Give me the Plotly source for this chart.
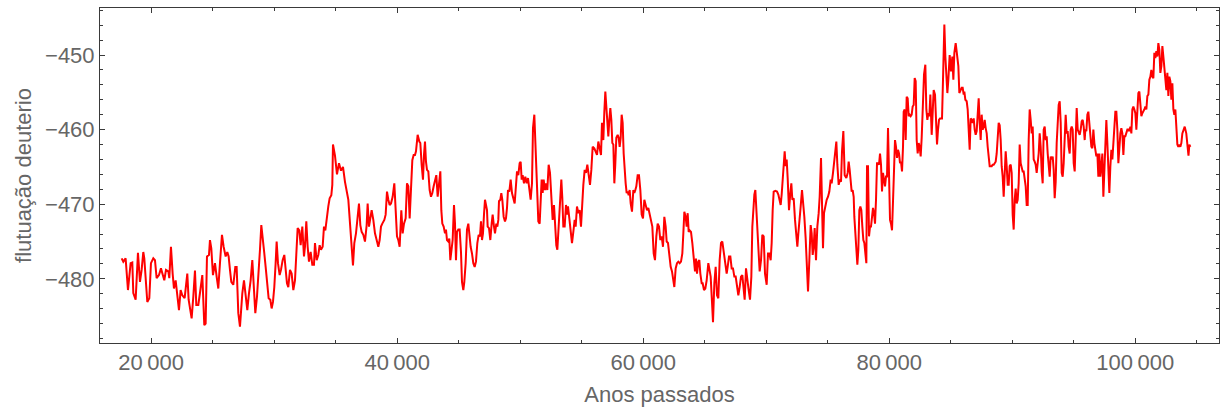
import plotly.graph_objects as go

# Deuterium fluctuation record (years before present, per-mil deviation)
anos = [
    17599, 17734, 17924, 18005, 18113, 18330, 18466, 18547, 18737, 18926,
    19089, 19225, 19360, 19441, 19550, 19685, 19848, 19983, 20173, 20309,
    20444, 20634, 20796, 20932, 21067, 21203, 21393, 21474, 21609, 21745,
    21853, 21989, 22151, 22260, 22395, 22531, 22720, 22937, 23046, 23181,
    23290, 23425, 23561, 23669, 23832, 23967, 24157, 24319, 24428, 24536,
    24699, 24780, 24888, 25024, 25187, 25322, 25458, 25593, 25756, 25891,
    26054, 26189, 26298, 26406, 26514, 26677, 26840, 26948, 27084, 27219,
    27274, 27409, 27545, 27680, 27816, 27951, 28087, 28222, 28358, 28466,
    28602, 28737, 28845, 28954, 29089, 29198, 29306, 29442, 29550, 29686,
    29794, 29902, 30011, 30119, 30201, 30309, 30445, 30553, 30688, 30824,
    30932, 31041, 31149, 31285, 31420, 31556, 31691, 31799, 31908, 32043,
    32152, 32287, 32423, 32504, 32612, 32721, 32829, 32965, 33100, 33236,
    33317, 33453, 33588, 33696, 33805, 33940, 34049, 34157, 34266, 34401,
    34509, 34645, 34726, 34780, 34943, 35106, 35268, 35431, 35594, 35756,
    36027, 36163, 36298, 36406, 36515,
    36650, 36786, 36894, 37003, 37111, 37247, 37382, 37518, 37599, 37707,
    37816, 37924, 38060, 38195, 38331, 38466, 38575, 38683, 38791, 38954,
    39062, 39171, 39279, 39387, 39496, 39631, 39767, 39875, 39984, 40092,
    40200, 40336, 40444, 40553, 40688, 40797, 40905, 41013, 41122, 41230,
    41339, 41447, 41528, 41583, 41664, 41799, 41881, 41989, 42097, 42179,
    42260, 42341, 42423, 42531, 42639, 42748, 42856, 42965, 43073, 43181,
    43290, 43398, 43507, 43588, 43669, 43778, 43886, 43967, 44049, 44157,
    44238, 44320, 44428, 44509, 44618, 44699, 44780, 44862, 44970, 45078,
    45187, 45268, 45376, 45458, 45566, 45675, 45783, 45891, 45972, 46081,
    46189, 46298, 46406, 46515, 46623, 46731, 46813, 46894, 46975, 47057,
    47138,
    47301, 47355, 47463, 47572, 47680, 47761, 47870, 47951, 48059, 48141,
    48222, 48276, 48385, 48466, 48547, 48656, 48764, 48845, 48927, 49008,
    49116, 49225, 49333, 49442, 49550, 49631, 49740, 49848, 49956, 50038,
    50119, 50200, 50309, 50417, 50526, 50634, 50742, 50851, 50959, 51040,
    51149, 51257, 51366, 51474, 51582, 51664, 51745, 51826, 51908, 52016,
    52097, 52206, 52314, 52423, 52531, 52639, 52748, 52829, 52937, 53019,
    53127, 53236, 53344, 53425, 53507, 53615, 53723, 53805, 53886, 53994,
    54103, 54211, 54320, 54428, 54509, 54617, 54726, 54834, 54943, 55024,
    55133, 55241, 55349, 55458, 55566, 55675, 55783, 55891, 56027, 56135,
    56244, 56352, 56461, 56569, 56650, 56759, 56840,
    56921, 57002, 57084, 57165, 57246, 57328, 57409, 57490, 57572, 57653,
    57734, 57815, 57924, 58005, 58086, 58168, 58249, 58330, 58412, 58493,
    58574, 58656, 58737, 58818, 58899, 58981, 59089, 59198, 59279, 59360,
    59441, 59550, 59658, 59767, 59875, 59983, 60092, 60200, 60309, 60417,
    60525, 60634, 60742, 60851, 60959, 61067, 61176, 61284, 61393, 61501,
    61609, 61718, 61826, 61908, 62016, 62124, 62233, 62341, 62450, 62531,
    62639, 62748, 62856, 62964, 63073, 63181, 63263, 63344, 63452, 63534,
    63615, 63696, 63777, 63886, 63994, 64103, 64211, 64292, 64374, 64482,
    64563, 64645, 64753, 64834, 64942, 65051, 65159, 65295, 65403, 65485,
    65593, 65674, 65783, 65891, 66000, 66108, 66216, 66325, 66433, 66542,
    66677, 66786, 66867, 66975, 67084, 67192, 67300, 67409, 67517, 67626,
    67734, 67842, 67951, 68059, 68168, 68249, 68357, 68466, 68574, 68683,
    68791, 68872, 68954, 69035, 69116, 69197, 69279, 69387, 69468, 69577,
    69685, 69794, 69902, 70038, 70146, 70254, 70363, 70444, 70525, 70607,
    70742, 70878, 70986, 71095, 71176, 71257, 71338, 71420, 71501, 71582,
    71664, 71745, 71853, 71962, 72043, 72124, 72233, 72341, 72449, 72531,
    72612, 72693, 72802, 72910, 73019, 73100, 73208, 73317, 73398, 73506,
    73615, 73696, 73777, 73859, 73940, 74048, 74157, 74265, 74346, 74455,
    74536, 74617, 74699, 74807, 74916, 75024, 75132, 75241, 75322, 75430,
    75512, 75593, 75701, 75783, 75891, 75999, 76081, 76162, 76271, 76379,
    76433, 76514, 76623, 76704, 76785, 76867, 76948, 77029, 77111, 77165,
    77246, 77327, 77409, 77490, 77571, 77653, 77734, 77815, 77897, 77978,
    78059, 78140, 78195, 78276, 78357, 78439, 78520, 78601, 78682, 78764,
    78845, 78926, 79008, 79089, 79170, 79252, 79333, 79414, 79495, 79577,
    79658, 79739, 79821, 79902, 79983, 80065, 80146, 80227, 80308, 80390,
    80471, 80552, 80634, 80715, 80796, 80878, 80959, 81040, 81121, 81176,
    81257, 81338, 81420, 81501, 81582, 81663, 81745, 81826, 81907, 81989,
    82070, 82151, 82233, 82314, 82395, 82476, 82558, 82639, 82747, 82829,
    82937, 83018, 83100, 83181, 83262, 83344, 83452, 83533, 83615, 83723,
    83804, 83886, 83967, 84048, 84130, 84211, 84292, 84373, 84482, 84563,
    84644, 84726, 84807, 84915, 85024, 85132, 85214, 85295, 85403, 85512,
    85620, 85701, 85810, 85891, 85972, 86054,
    86108, 86189, 86298, 86379, 86460, 86541, 86623, 86704, 86785, 86867,
    86948, 87029, 87111, 87192, 87273, 87354, 87436, 87517, 87598, 87680,
    87761, 87842, 87924, 88005, 88086, 88167, 88249, 88330, 88411, 88493,
    88574, 88655, 88737, 88818, 88899, 88981, 89062, 89143, 89224, 89306,
    89387, 89468, 89550, 89631, 89712, 89793, 89875, 89956, 90037, 90119,
    90200, 90281, 90363, 90444, 90525, 90606, 90688, 90769, 90850, 90932,
    91013, 91094, 91176, 91257, 91338, 91419, 91501, 91582, 91663, 91745,
    91826, 91907, 91989, 92070, 92151, 92232, 92314, 92395, 92476, 92558,
    92639, 92720, 92802, 92883, 92964, 93045, 93127, 93208, 93289, 93371,
    93452, 93533, 93615, 93696, 93777, 93859, 93940, 94021, 94102, 94184,
    94265, 94346, 94428, 94509, 94590, 94672, 94753, 94834, 94916, 94997,
    95078, 95159, 95241, 95322, 95403, 95485, 95566, 95647, 95729, 95810,
    95891,
    95945, 96026, 96108, 96189, 96270, 96352, 96433, 96514, 96596, 96677,
    96758, 96839, 96921, 97002, 97083, 97165, 97246, 97327, 97409, 97490,
    97571, 97652, 97734, 97815, 97896, 97978, 98059, 98140, 98222, 98303,
    98384, 98465, 98547, 98628, 98709, 98791, 98872, 98953, 99035, 99116,
    99197, 99278, 99360, 99441, 99522, 99604, 99685, 99766, 99848, 99929,
    100010, 100091, 100173, 100254, 100335, 100417, 100498, 100579, 100661, 100742,
    100823, 100904, 100986, 101067, 101148, 101230, 101311, 101392, 101474, 101555,
    101636, 101717, 101799, 101880, 101961, 102043, 102124, 102205, 102287, 102368,
    102449, 102530, 102612, 102693, 102774, 102856, 102937, 103018, 103100, 103181,
    103262, 103343, 103425, 103506, 103587, 103668, 103750, 103831, 103912, 104023,
    104150, 104250, 104330, 104400, 104480,
]

deuterio = [
    -477.25, -477.7, -477.25, -479.0, -481.5, -477.9, -477.8, -481.9, -482.8, -476.5,
    -480.4, -478.8, -476.4, -477.25, -479.7, -483.1, -482.6, -477.9, -477.25, -477.5,
    -479.9, -479.5, -478.6, -479.5, -480.2, -478.8, -479.0, -479.9, -475.7, -479.3,
    -481.3, -480.2, -482.4, -484.2, -481.5, -482.2, -482.6, -479.3, -482.8, -484.2,
    -485.3, -482.4, -478.9, -483.5, -483.5, -481.9, -479.5, -486.2, -486.0, -477.0,
    -476.8, -474.8, -475.9, -479.5, -477.9, -479.7, -481.3, -477.9, -474.1, -475.7,
    -477.0, -476.4, -477.0, -478.8, -480.4, -480.8, -478.4, -478.4, -484.6, -486.4,
    -484.6, -481.95, -480.2, -482.4, -484.2, -481.95, -480.2, -477.5, -481.5, -484.6,
    -482.4, -477.9, -476.1, -472.8, -474.6, -476.6, -478.4, -481.5, -482.6, -482.8,
    -483.97, -483.1, -481.1, -477.9, -475.0, -477.9, -479.5, -478.8, -477.5, -476.8,
    -478.8, -480.6, -481.1, -478.8, -479.3, -481.5, -480.2, -476.8, -473.2, -473.5,
    -475.5, -473.0, -477.0, -475.7, -472.3, -475.7, -477.7, -476.4, -478.1, -478.1,
    -475.2, -477.5, -476.8, -475.5, -476.1, -475.7, -473.0, -473.5, -471.7, -470.3,
    -469.2, -468.8, -467.4, -462.0, -463.5, -466.0, -464.5, -465.5, -465.0, -467.0,
    -469.4, -472.6, -475.7, -478.2, -475.2,
    -473.9, -471.7, -469.9, -472.8, -473.7, -474.1, -475.0, -472.8, -469.9, -473.0,
    -471.7, -470.8, -472.1, -473.9, -474.8, -475.7, -474.8, -473.0, -472.6, -472.1,
    -471.4, -468.3, -469.4, -470.1, -469.9, -469.0, -467.2, -471.9, -474.3, -474.8,
    -475.7, -470.8, -473.9, -472.6, -471.9, -467.2, -467.6, -471.9, -467.6, -464.1,
    -463.4, -463.4, -462.9, -461.6, -460.7, -461.6, -461.8, -464.7, -466.7, -463.4,
    -461.6, -464.3, -465.4, -465.6, -468.1, -469.0, -468.5, -467.6, -466.7, -466.1,
    -469.0, -467.6, -465.6, -470.8, -472.6, -473.0, -473.9, -473.4, -474.8, -475.0,
    -474.6, -477.5, -476.1, -474.8, -470.1, -472.6, -477.5, -473.7, -473.4, -473.4,
    -476.4, -480.4, -481.5, -480.4, -477.9, -473.4, -472.6, -475.2, -475.7, -476.6,
    -477.9, -478.4, -477.7, -475.2, -474.1, -474.3, -472.3, -474.8, -473.9, -471.4,
    -469.4,
    -470.8, -473.0, -473.2, -474.8, -472.6, -471.4, -473.0, -473.9, -472.6, -473.0,
    -472.1, -469.6, -469.4, -468.5, -469.4, -471.7, -472.3, -471.9, -470.5, -468.1,
    -468.3, -466.7, -468.5, -469.4, -469.9, -468.1, -465.6, -466.1, -464.5, -464.3,
    -466.7, -466.1, -467.2, -466.3, -467.2, -466.5, -468.5, -469.4, -467.2, -459.8,
    -458.0, -463.6, -466.7, -472.3, -472.6, -468.5, -466.7, -468.5, -466.7, -468.1,
    -467.2, -468.1, -464.7, -465.8, -469.0, -472.1, -470.1, -472.6, -475.5, -476.1,
    -472.6, -469.4, -466.7, -469.2, -473.0, -473.0, -470.1, -471.4, -470.3, -471.9,
    -473.5, -475.2, -473.7, -472.1, -473.0, -470.3, -471.2, -470.8, -473.0, -470.3,
    -467.4, -465.4, -465.8, -464.7, -466.1, -467.4, -465.4, -462.3, -462.5, -463.0,
    -463.4, -461.6, -462.5, -463.4, -459.1, -461.4, -457.6,
    -454.9, -456.9, -459.1, -460.9, -458.7, -457.1, -458.7, -461.8, -462.0, -467.2,
    -464.5, -461.1, -460.7, -461.1, -462.3, -461.1, -458.0, -459.1, -463.2, -465.6,
    -467.2, -468.5, -468.3, -468.8, -468.1, -469.9, -471.0, -468.1, -468.5, -468.1,
    -467.6, -466.1, -466.1, -468.1, -471.4, -471.9, -469.4, -470.1, -470.8, -470.5,
    -471.2, -472.1, -473.0, -476.6, -477.5, -474.3, -472.6, -473.0, -474.8, -474.3,
    -475.7, -471.7, -473.0, -475.0, -475.2, -476.8, -478.4, -479.0, -480.6, -481.1,
    -478.6, -477.9, -477.7, -477.9, -477.7, -476.6, -473.9, -471.0, -471.7, -473.0,
    -471.2, -473.7, -473.5, -473.7, -475.2, -477.5, -479.0, -477.3, -479.3, -477.7,
    -477.5, -479.3, -480.6, -480.6, -481.5, -481.3, -480.2, -477.9, -478.8, -479.7,
    -483.1, -485.8, -480.6, -478.4, -482.2, -482.6, -477.5, -475.2, -475.0, -476.4,
    -478.4, -479.3, -478.4, -477.0, -477.0, -478.6, -478.6, -479.7, -479.7, -481.1,
    -482.2, -481.1, -479.7, -479.5, -481.5, -482.8, -478.6, -480.6, -481.5, -482.8,
    -479.7, -473.0, -469.9, -468.7, -468.1, -471.2, -474.6, -476.6, -479.0, -477.5,
    -474.1, -474.3, -479.3, -480.8, -476.6, -476.6, -477.5, -475.2, -470.8, -468.3,
    -468.2, -468.3, -468.7, -469.4, -470.1, -468.7, -466.7, -464.9, -462.9, -464.9,
    -464.0, -466.5, -470.8, -468.5, -467.2, -469.4, -469.2, -472.1, -473.9, -475.7,
    -473.9, -472.6, -470.3, -468.1, -469.9, -471.7, -474.6, -478.1, -481.7, -477.5,
    -472.8, -473.9, -476.8, -475.7, -473.2, -477.5, -473.0, -471.2, -469.0, -463.8,
    -470.8, -475.9, -471.2, -470.1, -469.4, -469.0, -468.3, -466.7, -467.2, -465.8,
    -464.3, -463.2, -461.6, -464.7, -467.4, -466.7, -467.0, -462.9, -460.2, -466.1,
    -466.3, -466.5, -465.8, -464.3, -465.4, -466.7, -468.3, -468.1, -469.0, -471.7,
    -473.9, -476.1, -478.1, -476.1, -470.8, -470.3, -470.8, -473.0, -474.8, -475.2,
    -476.4, -477.9, -464.9, -464.9, -474.3, -473.0, -473.0, -471.7, -470.5, -471.2,
    -472.6, -469.4, -464.5, -464.5, -464.7, -463.2, -464.7, -468.3, -465.8, -466.7,
    -467.6, -466.3, -466.3, -459.8, -468.5, -472.1, -472.6, -473.5, -469.6, -463.8,
    -461.4, -462.3, -463.8, -462.7, -463.2, -464.5, -464.3, -465.6, -462.3, -457.6,
    -457.3, -461.4, -455.6, -455.8, -458.2, -458.0, -458.2, -458.0, -456.9, -456.7,
    -453.1, -453.5, -461.4, -463.2, -461.8, -462.3, -463.6, -461.1, -455.8, -452.6,
    -451.3, -457.3, -458.7, -457.8, -458.2, -455.3, -460.7, -457.3, -454.7, -455.3,
    -460.0, -462.0, -460.0, -458.7, -458.5, -458.5, -458.5, -453.3, -445.9, -450.2,
    -454.0, -455.1, -453.3, -450.0, -452.2, -450.2, -453.3, -449.7, -448.4, -449.7,
    -451.5, -455.1, -454.7, -454.4, -454.4, -455.3,
    -454.9, -456.0, -456.2, -457.3, -460.0, -462.7, -458.5, -458.7, -459.1, -458.5,
    -460.0, -460.7, -460.2, -456.9, -455.8, -459.1, -461.4, -458.0, -460.0, -459.6,
    -458.7, -459.8, -460.5, -462.3, -464.0, -464.9, -464.9, -464.9, -464.7, -464.7,
    -464.5, -464.3, -463.2, -461.4, -459.1, -459.4, -461.4, -464.9, -466.3, -469.0,
    -465.4, -462.9, -464.9, -467.4, -467.4, -464.9, -464.7, -465.8, -471.4, -473.4,
    -469.4, -467.9, -469.9, -469.4, -467.2, -462.0, -464.5, -464.9, -465.6, -465.6,
    -466.7, -467.6, -470.1, -470.1, -461.4, -457.3, -458.7, -460.5, -459.6, -464.0,
    -464.3, -464.7, -465.8, -464.5, -463.2, -460.5, -462.3, -465.6, -467.2, -460.0,
    -459.6, -461.4, -460.9, -463.2, -464.5, -466.3, -463.6, -464.0, -463.6, -465.4,
    -469.2, -467.0, -461.8, -459.6, -456.7, -456.2, -459.1, -465.8, -466.3, -464.5,
    -461.8, -458.0, -460.5, -460.2, -462.3, -463.2, -460.0, -459.6, -460.0, -464.5,
    -465.6, -460.5, -457.1, -460.0, -460.5, -460.7, -460.0, -458.9, -458.7, -459.6,
    -461.4,
    -460.0, -460.2, -458.0, -457.6, -459.6, -461.8, -462.3, -462.5, -460.0, -461.8,
    -463.2, -463.6, -463.2, -466.3, -463.2, -466.3, -464.9, -463.2, -469.0, -464.5,
    -461.4, -458.7, -461.8, -465.4, -468.5, -464.9, -462.7, -464.0, -461.8, -459.1,
    -457.6, -457.6, -460.0, -464.5, -462.3, -460.5, -459.8, -460.5, -463.4, -460.9,
    -460.9, -460.5, -460.0, -460.0, -460.2, -459.6, -460.5, -457.3, -456.9, -457.3,
    -457.8, -460.0, -457.8, -455.1, -454.9, -456.4, -458.2, -457.8, -457.6, -457.3,
    -456.9, -457.3, -455.5, -455.3, -453.3, -452.9, -452.0, -452.9, -453.1, -449.7,
    -450.4, -449.5, -450.2, -448.4, -449.3, -452.4, -451.5, -448.8, -450.2, -452.0,
    -452.9, -454.7, -452.4, -455.5, -452.9, -453.5, -456.0, -453.8, -457.3, -458.0,
    -457.3, -460.7, -462.0, -462.3, -462.0, -462.3, -461.8, -460.5, -460.0, -459.6,
    -460.5, -462.0, -463.5, -462.0, -462.3,
]

x_range = [15840, 106810]
y_range = [-488.6, -443.7]

frame_color = "#3a3a3a"
label_color = "#666666"
font_family = "Liberation Sans, Arial, sans-serif"

fig = go.Figure(
    go.Scatter(
        x=anos,
        y=deuterio,
        mode="lines",
        line=dict(color="#ff0000", width=2),
        hoverinfo="skip",
    )
)

fig.update_layout(
    width=1220,
    height=410,
    margin=dict(l=100, r=1, t=8, b=67),
    paper_bgcolor="white",
    plot_bgcolor="white",
    showlegend=False,
    separators=".\u2009",
    font=dict(family=font_family, size=22, color=label_color),
)

fig.update_xaxes(
    range=x_range,
    tickmode="linear",
    tick0=0,
    dtick=20000,
    tickformat=",d",
    ticks="inside",
    ticklen=5,
    tickwidth=1,
    tickcolor=frame_color,
    minor=dict(tickmode="linear", tick0=0, dtick=5000, ticks="inside",
               ticklen=3, tickcolor=frame_color, showgrid=False),
    showline=True,
    linecolor=frame_color,
    linewidth=1,
    mirror="ticks",
    showgrid=False,
    zeroline=False,
    tickfont=dict(size=22, color=label_color),
    title=dict(text="Anos passados", font=dict(size=22, color=label_color), standoff=12),
)

fig.update_yaxes(
    range=y_range,
    tickmode="linear",
    tick0=0,
    dtick=10,
    ticks="inside",
    ticklen=5,
    tickwidth=1,
    tickcolor=frame_color,
    minor=dict(tickmode="linear", tick0=0, dtick=2, ticks="inside",
               ticklen=3, tickcolor=frame_color, showgrid=False),
    showline=True,
    linecolor=frame_color,
    linewidth=1,
    mirror="ticks",
    showgrid=False,
    zeroline=False,
    tickfont=dict(size=22, color=label_color),
    title=dict(text="flutuação deuterio", font=dict(size=22, color=label_color), standoff=7),
)

fig.write_html("out.html")
